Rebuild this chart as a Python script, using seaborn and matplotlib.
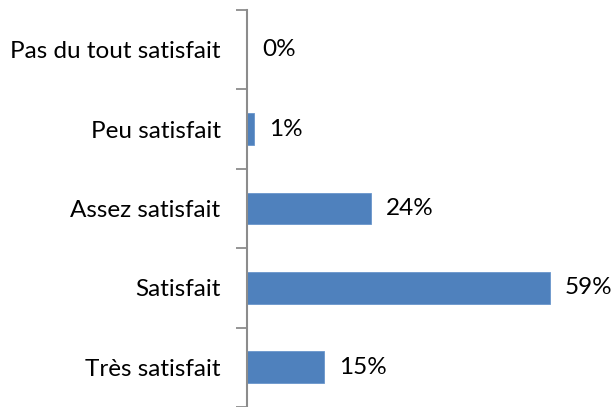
import numpy as np
import pandas as pd
import seaborn as sns
import matplotlib.pyplot as plt

# data
categories = ['Pas du tout satisfait', 'Peu satisfait', 'Assez satisfait',
              'Satisfait', 'Très satisfait']
values = [0, 1.3, 24.1, 58.9, 15]
value_labels = ['0%', '1%', '24%', '59%', '15%']

sns.set_theme(style="white")
plt.rcParams['font.family'] = ['Lato', 'DejaVu Sans']

df = pd.DataFrame({'cat': categories, 'val': values})

fig = plt.figure(figsize=(6.14, 4.07), dpi=100)
ax = fig.add_axes([247 / 614, 0, 367 / 614, 397 / 407])

sns.barplot(data=df, x='val', y='cat', orient='h', color='#4F81BD',
            saturation=1, width=0.4, ax=ax)
for bar in ax.patches:
    bar.set_edgecolor('#6A96CC')
    bar.set_linewidth(0.6)

ax.bar_label(ax.containers[0], labels=value_labels, padding=11,
             fontsize=17.5, color='black')

ax.set_xlim(0, 71.4)
ax.set_ylim(4.4625, -0.5)
ax.set_xlabel('')
ax.set_ylabel('')
ax.set_xticks([])

# ticks at category boundaries, labels at category centres
n = len(categories)
ax.set_yticks(np.arange(n + 1) - 0.5)
ax.set_yticklabels([''] * (n + 1))
ax.set_yticks(np.arange(n), minor=True)
ax.set_yticklabels(categories, minor=True, fontsize=17.5, color='black')
ax.tick_params(axis='y', which='major', length=8, width=1.3, color='#8C8C8C',
               left=True, direction='out')
ax.tick_params(axis='y', which='minor', length=0, pad=19)

for side in ['top', 'right', 'bottom']:
    ax.spines[side].set_visible(False)
ax.spines['left'].set_color('#8C8C8C')
ax.spines['left'].set_linewidth(1.5)

fig.savefig('out.png', dpi=100)
